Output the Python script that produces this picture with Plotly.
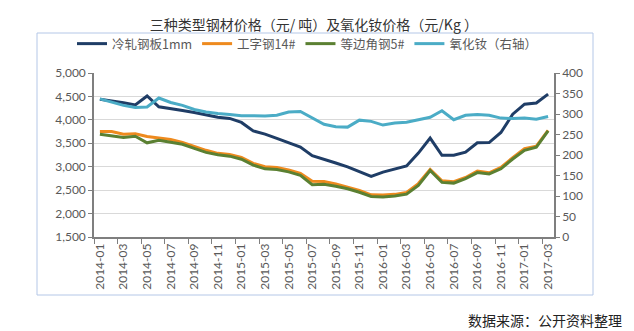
import plotly.graph_objects as go

months = [
    "2014-01", "2014-02", "2014-03", "2014-04", "2014-05", "2014-06", "2014-07", "2014-08",
    "2014-09", "2014-10", "2014-11", "2014-12", "2015-01", "2015-02", "2015-03", "2015-04",
    "2015-05", "2015-06", "2015-07", "2015-08", "2015-09", "2015-10", "2015-11", "2015-12",
    "2016-01", "2016-02", "2016-03", "2016-04", "2016-05", "2016-06", "2016-07", "2016-08",
    "2016-09", "2016-10", "2016-11", "2016-12", "2017-01", "2017-02", "2017-03",
]

cold_rolled = [
    4440, 4410, 4365, 4320, 4510, 4280, 4245, 4200, 4155, 4100, 4055, 4030, 3945,
    3765, 3695, 3605, 3520, 3420, 3235, 3165, 3080, 2995, 2900, 2795, 2885, 2950,
    3015, 3290, 3610, 3245, 3245, 3310, 3510, 3515, 3730, 4120, 4335, 4360, 4550,
]

i_beam = [
    3750, 3750, 3695, 3705, 3645, 3620, 3580, 3520, 3430, 3350, 3285, 3260, 3200,
    3070, 3000, 2985, 2930, 2860, 2690, 2685, 2630, 2565, 2495, 2400, 2395, 2410,
    2450, 2640, 2940, 2700, 2680, 2770, 2905, 2870, 2985, 3195, 3385, 3440, 3775,
]

angle_steel = [
    3695, 3665, 3625, 3650, 3510, 3565, 3530, 3480, 3390, 3305, 3255, 3225, 3160,
    3035, 2955, 2940, 2890, 2815, 2615, 2625, 2585, 2530, 2455, 2365, 2355, 2375,
    2415, 2600, 2920, 2665, 2650, 2745, 2875, 2845, 2955, 3165, 3350, 3415, 3765,
]

nd_oxide = [
    337, 329, 321, 316, 317, 339, 328, 321, 311, 305, 301, 299, 296,
    296, 295, 297, 305, 306, 291, 275, 269, 268, 285, 282, 273, 278,
    280, 286, 292, 308, 286, 297, 299, 297, 290, 289, 290, 287, 294,
]

names = ["冷轧钢板1mm", "工字钢14#", "等边角钢5#", "氧化钕（右轴）"]
colors = ["#1F3D66", "#EE8A1E", "#5B8032", "#4BACC6"]

CJK = "Noto Sans CJK SC"
NUM = "Lato, Noto Sans CJK SC"

fig = go.Figure()
for vals, name, col in zip([cold_rolled, i_beam, angle_steel], names[:3], colors[:3]):
    fig.add_trace(go.Scatter(x=months, y=vals, name=name, mode="lines",
                             line=dict(color=col, width=3)))
fig.add_trace(go.Scatter(x=months, y=nd_oxide, name=names[3], mode="lines",
                         line=dict(color=colors[3], width=3), yaxis="y2"))

axis_line = "#7F7F7F"
fig.update_layout(
    width=634, height=331,
    margin=dict(l=94, r=80, t=73, b=94, pad=0),
    paper_bgcolor="white", plot_bgcolor="white",
    title=dict(text="三种类型钢材价格（元/ 吨）及氧化钕价格（元/Kg ）",
               x=0.495, xanchor="center", y=1 - 25 / 331, yanchor="middle",
               font=dict(family=CJK, size=14, color="#333333")),
    legend=dict(orientation="h", x=(72 - 94) / 460, xanchor="left", y=(237 - 44) / 164,
                yanchor="middle", font=dict(family=CJK, size=12.5, color="#595959"),
                bgcolor="rgba(0,0,0,0)", itemwidth=30, tracegroupgap=0),
    xaxis=dict(type="category", range=[-0.5, 38.5], tickmode="linear", dtick=2,
               tick0=0, tickson="boundaries", ticks="outside", ticklen=5,
               tickcolor=axis_line, tickangle=-90, showline=True, linecolor=axis_line,
               linewidth=1.5, showgrid=False,
               tickfont=dict(family=NUM, size=12, color="#595959")),
    yaxis=dict(range=[1500, 5000], dtick=500, tickformat=",", showline=True,
               linecolor=axis_line, linewidth=1.5, ticks="outside", ticklen=4,
               tickcolor=axis_line, gridcolor="#D9D9D9", gridwidth=1, zeroline=False,
               tickfont=dict(family=NUM, size=12, color="#595959")),
    yaxis2=dict(range=[0, 400], dtick=50, overlaying="y", side="right",
                showline=True, linecolor=axis_line, linewidth=1.5, ticks="outside",
                ticklen=4, tickcolor=axis_line, showgrid=False, zeroline=False,
                tickfont=dict(family=NUM, size=12, color="#595959")),
    shapes=[dict(type="rect", xref="paper", yref="paper",
                 x0=(37 - 94) / 460, x1=(593 - 94) / 460,
                 y0=(237 - 295) / 164, y1=(237 - 33) / 164,
                 line=dict(color="#B4C7E7", width=1), fillcolor="rgba(0,0,0,0)",
                 layer="below")],
    annotations=[dict(text="数据来源：公开资料整理", xref="paper", yref="paper",
                      x=(624 - 94) / 460, y=(237 - 320) / 164, xanchor="right",
                      yanchor="middle", showarrow=False,
                      font=dict(family=CJK, size=14, color="#222222"))],
)

fig.write_html("out.html")
